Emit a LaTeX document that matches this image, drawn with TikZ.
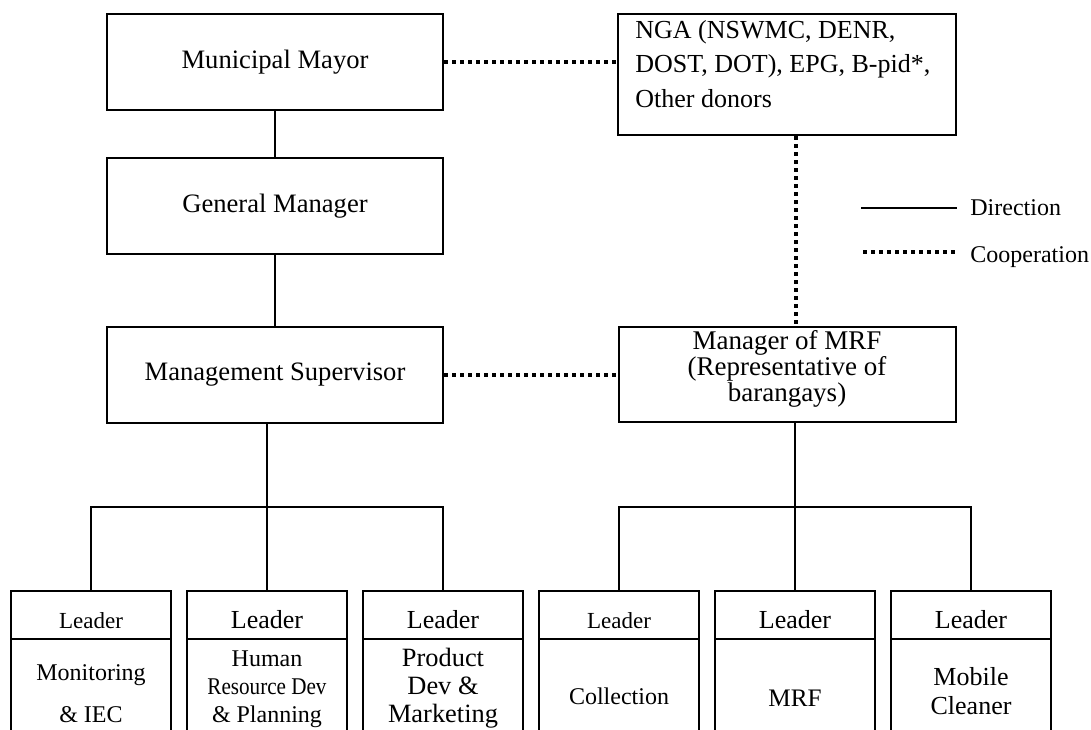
\documentclass[tikz,border=0pt]{standalone}
\usepackage{fontspec}
\usepackage{graphicx}
\setmainfont{Liberation Serif}
\begin{document}
\begin{tikzpicture}[x=0.5pt,y=-0.5pt,
  box/.style={draw, line width=1pt, minimum width=168pt, minimum height=48pt, inner sep=0pt,
    font=\fontsize{13.3}{16}\selectfont},
  head/.style={draw, line width=1pt, minimum width=80pt, minimum height=24pt, inner sep=0pt,
    text height=13pt, text depth=0pt},
  body/.style={draw, line width=1pt, minimum width=80pt, minimum height=61pt, inner sep=0pt},
  txt/.style={inner sep=0pt, align=center},
  dir/.style={line width=1pt},
  dirthick/.style={line width=1.3pt},
  coop/.style={line width=2pt, dash pattern=on 2pt off 2pt}
]
\useasboundingbox (0,0) rectangle (1091,729);
\clip (0,0) rectangle (1091,729);

% main column
\node[box] (mayor) at (275,62) {Municipal Mayor};
\node[box] (gm) at (275,206) {General Manager};
\node[box] (ms) at (275,375) {Management Supervisor};

% right column
\node[box, minimum width=169pt, minimum height=60.5pt] (nga) at (787,74.5) {};
\node[anchor=north west, inner sep=0pt, align=left, font=\fontsize{13}{17.25}\selectfont]
  (ngatext) at (635,20) {NGA (NSWMC, DENR,\\DOST, DOT), EPG, B-pid*,\\Other donors};
\node[box, minimum width=168.5pt, minimum height=47.5pt] (mrf) at (787.5,374.5) {};
\node[txt, font=\fontsize{13.5}{13}\selectfont] (mrftext) at (787,369)
  {Manager of MRF\\(Representative of\\barangays)};

% bottom boxes
\node[head, font=\fontsize{11.5}{13}\selectfont] (h1) at (91,615) {Leader};
\node[head, font=\fontsize{13}{15}\selectfont] (h2) at (267,615) {Leader};
\node[head, font=\fontsize{13}{15}\selectfont] (h3) at (443,615) {Leader};
\node[head, font=\fontsize{11.5}{13}\selectfont] (h4) at (619,615) {Leader};
\node[head, font=\fontsize{13}{15}\selectfont] (h5) at (795,615) {Leader};
\node[head, font=\fontsize{13}{15}\selectfont] (h6) at (971,615) {Leader};

\node[body] (b1) at (91,700) {};
\node[body] (b2) at (267,700) {};
\node[body] (b3) at (443,700) {};
\node[body] (b4) at (619,700) {};
\node[body] (b5) at (795,700) {};
\node[body] (b6) at (971,700) {};

\node[txt, font=\fontsize{12}{21}\selectfont] (t1) at (91,694) {Monitoring\\\& IEC};
\node[txt, font=\fontsize{12}{14}\selectfont] (t2) at (267,689)
  {Human\\\scalebox{0.88}[1]{Resource Dev}\\\& Planning};
\node[txt, font=\fontsize{13.2}{14}\selectfont] (t3) at (443,688) {Product\\Dev \&\\Marketing};
\node[txt, font=\fontsize{12}{14}\selectfont] (t4) at (619,696) {Collection};
\node[txt, font=\fontsize{12.6}{14}\selectfont] (t5) at (795,698.5) {MRF};
\node[txt, font=\fontsize{13}{14.5}\selectfont] (t6) at (971,691.5) {Mobile\\Cleaner};

% direction lines
\draw[dir] (mayor.south) -- (gm.north);
\draw[dir] (gm.south) -- (ms.north);

\coordinate (lbus) at (267,507);
\coordinate (rbus) at (795,507);
\draw[dirthick] (ms.south -| lbus) -- (lbus);
\draw[dir] (h1.north) -- (h1.north |- lbus) -- (h3.north |- lbus) -- (h3.north);
\draw[dir] (lbus) -- (h2.north);
\draw[dirthick] (mrf.south -| rbus) -- (rbus);
\draw[dir] (h4.north) -- (h4.north |- rbus) -- (h6.north |- rbus) -- (h6.north);
\draw[dir] (rbus) -- (h5.north);

% cooperation lines
\coordinate (coopx) at (796,0);
\draw[coop] (mayor.east) -- (mayor.east -| nga.west);
\draw[coop] (ms.east) -- (ms.east -| mrf.west);
\draw[coop] (nga.south -| coopx) -- (mrf.north -| coopx);

% legend
\coordinate (dirA) at (861,208);
\coordinate (dirB) at (957,208);
\draw[dir] (dirA) -- (dirB);
\node[anchor=base west, inner sep=0pt, font=\fontsize{12}{14}\selectfont] (dirlabel) at (970,215) {Direction};
\coordinate (coA) at (863,252);
\coordinate (coB) at (957,252);
\draw[coop] (coA) -- (coB);
\node[anchor=base west, inner sep=0pt, font=\fontsize{12}{14}\selectfont] (coolabel) at (970,262) {Cooperation};
\end{tikzpicture}
\end{document}
